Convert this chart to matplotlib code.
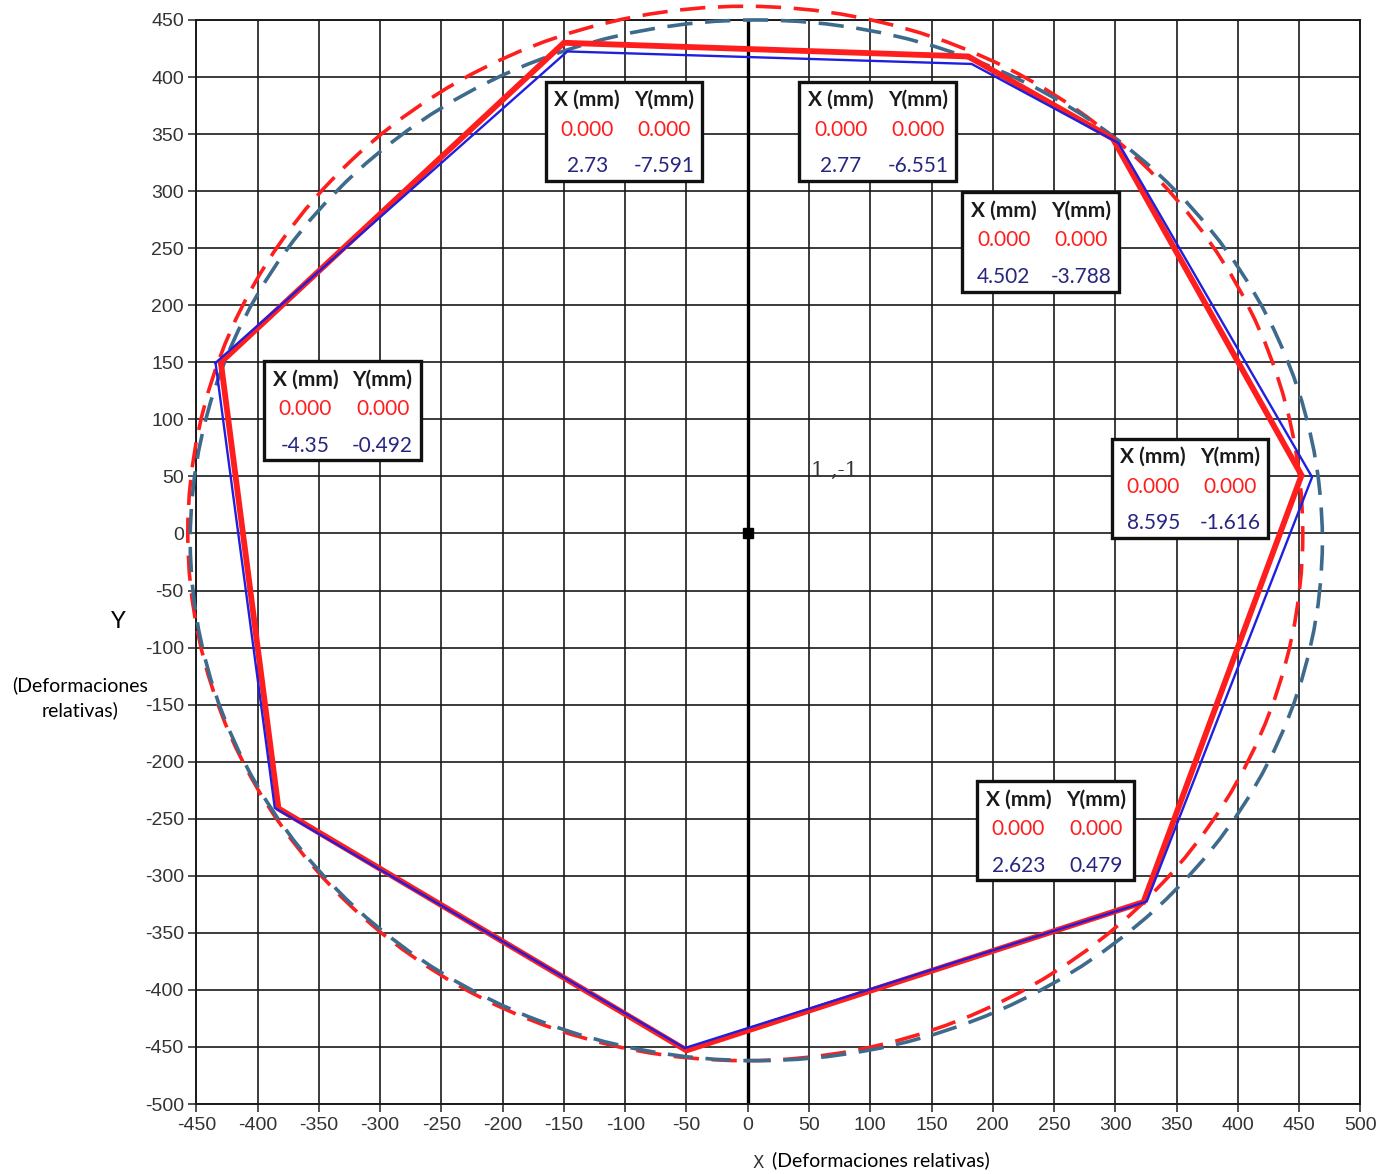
import numpy as np
import matplotlib
matplotlib.use("Agg")
import matplotlib.pyplot as plt
from matplotlib.patches import Ellipse, Rectangle

# Node positions of the section (red) and measured displacements (blue), mm
node_x = [-430, -150, 180, 298, 452, 323, -50, -383]
node_y = [150, 430, 418, 346, 51, -323, -453, -241]
disp_x = [-4.35, 2.73, 2.77, 4.502, 8.595, 2.623, -1.5, -3.0]
disp_y = [-0.492, -7.591, -6.551, -3.788, -1.616, 0.479, 2.0, 0.5]

# Reference circles: centre x, centre y, width, height
circle_red = (-2, 0, 910, 924)
circle_def = (7, -6, 924, 912)

# Displacement tables: anchor (top-left, data units)
box_x = [-165, 42, 175, -395, 297, 187]
box_y = [396, 396, 299, 151, 83, -217]
box_xval = ["2.73", "2.77", "4.502", "-4.35", "8.595", "2.623"]
box_yval = ["-7.591", "-6.551", "-3.788", "-0.492", "-1.616", "0.479"]

x_ticks = np.arange(-450, 501, 50)
y_ticks = np.arange(-500, 451, 50)

RED = "#ff1e1e"
BLUE = "#1f1fe0"
NAVY = "#262680"
STEEL = "#3e6a8c"

plt.rcParams["font.family"] = ["Liberation Sans", "DejaVu Sans"]
plt.rcParams["axes.unicode_minus"] = False

fig = plt.figure(figsize=(13.78, 11.74), dpi=100)
ax = fig.add_axes([0.1425, 0.0596, 0.8447, 0.9234])
ax.set_xlim(-450, 500)
ax.set_ylim(-500, 450)

# grid
ax.set_xticks(x_ticks)
ax.set_yticks(y_ticks)
ax.grid(True, color="#1a1a1a", lw=1.2)
ax.set_axisbelow(True)
for s in ax.spines.values():
    s.set_color("#1a1a1a")
    s.set_linewidth(1.4)
ax.tick_params(direction="out", length=6, width=1.2, color="#333333",
               labelsize=14, labelcolor="#333333", pad=3)
ax.axvline(0, color="black", lw=2.4, zorder=1)
ax.plot([0], [0], marker="s", ms=7, color="black", zorder=6)
ax.text(52, 55, "1 ,-1", family="DejaVu Serif", fontsize=15, color="#333333",
        ha="left", va="center")

# dashed circles
cx, cy, w, h = circle_red
ax.add_patch(Ellipse((cx, cy), w, h, fill=False, ec=RED, lw=2.6,
                     linestyle=(0, (7, 3.5)), zorder=3, clip_on=False))
cx, cy, w, h = circle_def
ax.add_patch(Ellipse((cx, cy), w, h, fill=False, ec=STEEL, lw=2.6,
                     linestyle=(3, (7, 3.5)), zorder=3, clip_on=False))

# polygons
px = node_x + [node_x[0]]
py = node_y + [node_y[0]]
bx = [a + d for a, d in zip(node_x, disp_x)]
by = [a + d for a, d in zip(node_y, disp_y)]
bx = bx + [bx[0]]
by = by + [by[0]]
ax.plot(px, py, color=RED, lw=4.2, solid_joinstyle="miter", zorder=4)
ax.plot(bx, by, color=BLUE, lw=1.7, zorder=5)

# displacement tables
bw, bh = 128, 87
tf = dict(ha="center", va="center", fontsize=15, family="Lato", zorder=8)
for x0, y0, xv, yv in zip(box_x, box_y, box_xval, box_yval):
    ax.add_patch(Rectangle((x0, y0 - bh), bw, bh, fc="white", ec="#111111",
                           lw=2.4, zorder=7))
    c1 = x0 + 34
    c2 = x0 + 97
    ax.text(c1, y0 - 16, "X (mm)", weight="bold", color="#1a1a1a", **tf)
    ax.text(c2, y0 - 16, "Y(mm)", weight="bold", color="#1a1a1a", **tf)
    ax.text(c1, y0 - 42, "0.000", color=RED, **tf)
    ax.text(c2, y0 - 42, "0.000", color=RED, **tf)
    ax.text(c1, y0 - 74, xv, color=NAVY, **tf)
    ax.text(c2, y0 - 74, yv, color=NAVY, **tf)

# axis titles
fig.text(118 / 1378, 1 - 622 / 1174, "Y", family="Lato", fontsize=17,
         ha="center", va="center", color="black")
fig.text(80 / 1378, 1 - 698 / 1174, "(Deformaciones\nrelativas)", family="Lato",
         fontsize=14, ha="center", va="center", color="black", linespacing=1.45)
fig.text(758 / 1378, 1 - 1163 / 1174, "X", family="DejaVu Sans", fontsize=12,
         ha="center", va="center", color="#333333")
fig.text(772 / 1378, 1 - 1160 / 1174, "(Deformaciones relativas)", family="Lato",
         fontsize=14, ha="left", va="center", color="black")

fig.savefig("out.png", dpi=100, facecolor="white")
